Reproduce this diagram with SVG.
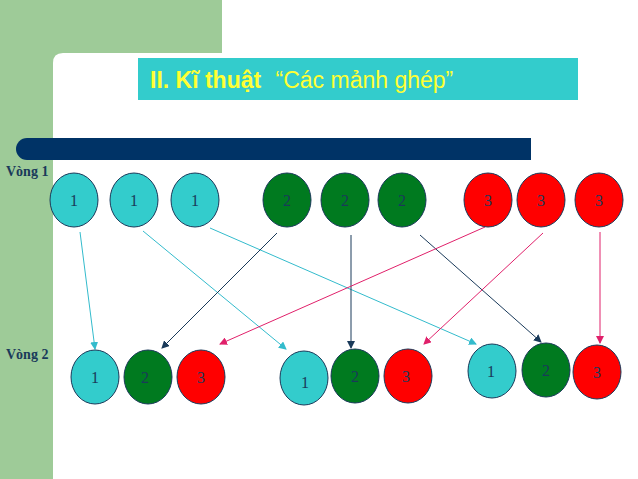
<svg xmlns="http://www.w3.org/2000/svg" width="638" height="479" viewBox="0 0 638 479">
<style>
.c{stroke:#1a3a5a;stroke-width:1}
.cy{fill:#33CCCC}.gr{fill:#007A1F}.rd{fill:#FF0000}
.n{font-family:"Liberation Serif",serif;font-size:16px;fill:#1a3a5a;text-anchor:middle}
.lb{font-family:"Liberation Serif",serif;font-size:14px;font-weight:bold;fill:#1a3a5a}
.a{fill:none;stroke-width:1}
</style>
<defs>
<marker id="mc" markerWidth="8" markerHeight="8" refX="7" refY="4" orient="auto" markerUnits="userSpaceOnUse"><path d="M0,0 L8,4 L0,8 Z" fill="#33BBCC"/></marker>
<marker id="md" markerWidth="8" markerHeight="8" refX="7" refY="4" orient="auto" markerUnits="userSpaceOnUse"><path d="M0,0 L8,4 L0,8 Z" fill="#1a3a5a"/></marker>
<marker id="mp" markerWidth="8" markerHeight="8" refX="7" refY="4" orient="auto" markerUnits="userSpaceOnUse"><path d="M0,0 L8,4 L0,8 Z" fill="#E0206A"/></marker>
</defs>
<rect width="638" height="479" fill="#fff"/>
<rect x="0" y="0" width="53" height="479" fill="#9ECB98"/>
<rect x="0" y="0" width="222" height="53" fill="#9ECB98"/>
<path d="M53,63 Q53,53 63,53 L222,53 L222,53 L53,53 Z" fill="#9ECB98"/>
<rect x="138" y="58" width="440" height="42" fill="#33CCCC"/>
<text x="150" y="88" font-family="Liberation Sans,sans-serif" font-size="23" fill="#FFFF33"><tspan font-weight="bold">II. Kĩ thuật </tspan><tspan dx="8">“Các mảnh ghép”</tspan></text>
<path d="M27,138 L531,138 L531,160 L27,160 A11,11 0 0 1 27,138 Z" fill="#003366"/>
<text class="lb" x="6" y="176">Vòng 1</text>
<text class="lb" x="6" y="359">Vòng 2</text>
<g id="connectors">
<line class="a" stroke="#33BBCC" x1="80" y1="232" x2="95" y2="349" marker-end="url(#mc)"/>
<line class="a" stroke="#33BBCC" x1="143" y1="231" x2="286" y2="349" marker-end="url(#mc)"/>
<line class="a" stroke="#33BBCC" x1="210" y1="228" x2="476" y2="344" marker-end="url(#mc)"/>
<line class="a" stroke="#1a3a5a" x1="277" y1="233" x2="162" y2="348" marker-end="url(#md)"/>
<line class="a" stroke="#1a3a5a" x1="351" y1="235" x2="351" y2="348" marker-end="url(#md)"/>
<line class="a" stroke="#1a3a5a" x1="420" y1="235" x2="541" y2="342" marker-end="url(#md)"/>
<line class="a" stroke="#E0206A" x1="485" y1="227" x2="220" y2="344" marker-end="url(#mp)"/>
<line class="a" stroke="#E0206A" x1="543" y1="233" x2="424" y2="344" marker-end="url(#mp)"/>
<line class="a" stroke="#E0206A" x1="600" y1="232" x2="600" y2="343" marker-end="url(#mp)"/>
</g>
<g id="t1a"><ellipse class="c cy" cx="74" cy="200" rx="24" ry="27"/><text class="n" x="74" y="206">1</text></g>
<g id="t1b"><ellipse class="c cy" cx="134" cy="200" rx="24" ry="27"/><text class="n" x="134" y="206">1</text></g>
<g id="t1c"><ellipse class="c cy" cx="195" cy="200" rx="24" ry="27"/><text class="n" x="195" y="206">1</text></g>
<g id="t2a"><ellipse class="c gr" cx="287" cy="200" rx="24" ry="27"/><text class="n" x="287" y="206">2</text></g>
<g id="t2b"><ellipse class="c gr" cx="345" cy="200" rx="24" ry="27"/><text class="n" x="345" y="206">2</text></g>
<g id="t2c"><ellipse class="c gr" cx="402" cy="200" rx="24" ry="27"/><text class="n" x="402" y="206">2</text></g>
<g id="t3a"><ellipse class="c rd" cx="488" cy="200" rx="24" ry="27"/><text class="n" x="488" y="206">3</text></g>
<g id="t3b"><ellipse class="c rd" cx="541" cy="200" rx="24" ry="27"/><text class="n" x="541" y="206">3</text></g>
<g id="t3c"><ellipse class="c rd" cx="599" cy="200" rx="24" ry="27"/><text class="n" x="599" y="206">3</text></g>
<g id="b1a"><ellipse class="c cy" cx="95" cy="377" rx="24" ry="27"/><text class="n" x="95" y="383">1</text></g>
<g id="b1b"><ellipse class="c gr" cx="148" cy="377" rx="24" ry="27"/><text class="n" x="145" y="383">2</text></g>
<g id="b1c"><ellipse class="c rd" cx="201" cy="377" rx="24" ry="27"/><text class="n" x="201" y="383">3</text></g>
<g id="b2a"><ellipse class="c cy" cx="304" cy="378" rx="24" ry="27"/><text class="n" x="305" y="388">1</text></g>
<g id="b2b"><ellipse class="c gr" cx="355" cy="376" rx="24" ry="27"/><text class="n" x="355" y="382">2</text></g>
<g id="b2c"><ellipse class="c rd" cx="408" cy="376" rx="24" ry="27"/><text class="n" x="406" y="382">3</text></g>
<g id="b3a"><ellipse class="c cy" cx="492" cy="371" rx="24" ry="27"/><text class="n" x="491" y="377">1</text></g>
<g id="b3b"><ellipse class="c gr" cx="546" cy="370" rx="24" ry="27"/><text class="n" x="546" y="376">2</text></g>
<g id="b3c"><ellipse class="c rd" cx="597" cy="372" rx="24" ry="27"/><text class="n" x="597" y="378">3</text></g>
</svg>
